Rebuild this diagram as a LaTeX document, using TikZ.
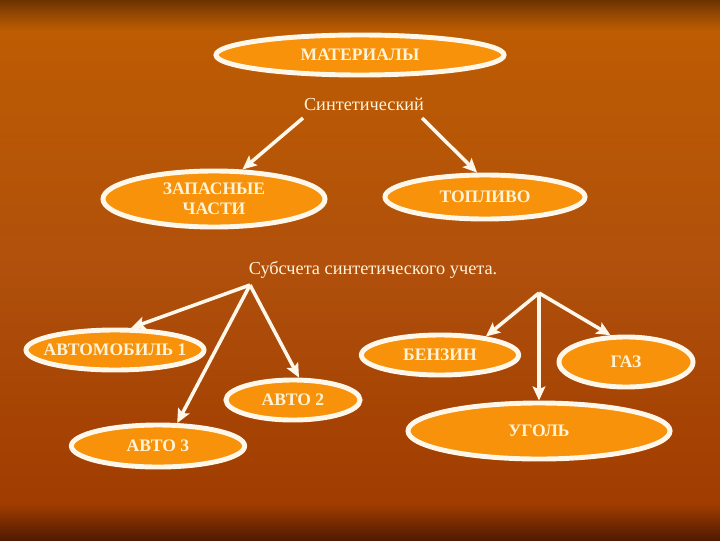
\documentclass[tikz,border=0pt]{standalone}
\usepackage{fontspec}
\setmainfont{Liberation Serif}
\usepackage{xcolor}
\usetikzlibrary{shapes.geometric,arrows.meta}
\definecolor{brT1}{HTML}{6B3300}
\definecolor{brT2}{HTML}{BD5C02}
\definecolor{brM1}{HTML}{B0500C}
\definecolor{brB2}{HTML}{A03C00}
\definecolor{brB1}{HTML}{501A00}
\definecolor{ovF}{HTML}{F7920A}
\definecolor{ovD}{HTML}{FFF8EA}
\definecolor{txW}{HTML}{FFF3D8}
\pgfdeclareverticalshading{bgshade}{100bp}{color(0bp)=(brB1); color(25bp)=(brB1); color(28.3bp)=(brB2); color(50bp)=(brM1); color(72.2bp)=(brT2); color(74bp)=(brT1!60!brT2); color(75bp)=(brT1); color(100bp)=(brT1)}
\tikzset{
  oval/.style={ellipse,fill=ovF,draw=ovD,line width=3.5pt,inner sep=0pt,text=txW,align=center,font=\fontsize{12.5}{14}\selectfont\bfseries},
  lbl/.style={text=txW,inner sep=0pt,font=\fontsize{13}{15}\selectfont},
  arr/.style={draw=ovD,line width=2.5pt,-{Stealth[length=10pt,width=9pt,inset=2pt]}}
}
\def\ot#1{\makebox[0pt]{#1}}

\begin{document}
\begin{tikzpicture}[x=0.025cm,y=-0.025cm]
\shade[shading=bgshade](0,0)rectangle(720,540);
% top level
\node[oval,minimum width=7.2cm,minimum height=1.0cm](mat) at (360,55){\ot{МАТЕРИАЛЫ}};
\node[lbl](synt) at (364,104){Синтетический};
\coordinate(sL) at (303,118);\coordinate(sR) at (422,118);
\node[oval,minimum width=5.55cm,minimum height=1.4cm](zap) at (214,199){\ot{ЗАПАСНЫЕ}\\\ot{ЧАСТИ}};
\node[oval,minimum width=5.0cm,minimum height=1.1cm](topl) at (485,197){\ot{ТОПЛИВО}};
\draw[arr](sL)--(zap.46);
\draw[arr](sR)--(topl.108);
% subaccounts
\node[lbl](sub) at (373,270){Субсчета синтетического учета.};
\coordinate(bL) at (250,285);\coordinate(bR) at (539,293);
\node[oval,minimum width=4.45cm,minimum height=1.0cm](avto1) at (115,350){\ot{АВТОМОБИЛЬ 1}};
\node[oval,minimum width=3.35cm,minimum height=1.0cm](avto2) at (293,400){\ot{АВТО 2}};
\node[oval,minimum width=4.33cm,minimum height=1.05cm](avto3) at (158,446){\ot{АВТО 3}};
\node[oval,minimum width=3.93cm,minimum height=1.0cm](benz) at (440,355){\ot{БЕНЗИН}};
\node[oval,minimum width=3.35cm,minimum height=1.25cm](gaz) at (626,362){\ot{ГАЗ}};
\node[oval,minimum width=6.55cm,minimum height=1.4cm](ugol) at (539,431){\ot{УГОЛЬ}};
\draw[arr](bL)--(avto1.54);
\draw[arr](bL)--(avto3.50);
\draw[arr](bL)--(avto2.75);
\draw[arr](bR)--(benz.22);
\draw[arr](bR)--(ugol.north);
\draw[arr](bR)--(gaz.120);
\end{tikzpicture}
\end{document}
